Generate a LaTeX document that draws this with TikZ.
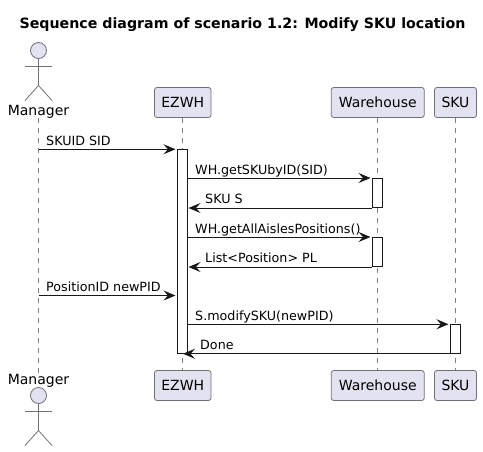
\documentclass[tikz,border=0pt]{standalone}
\usepackage{fontspec}
\setmainfont{DejaVu Sans}
\usetikzlibrary{arrows.meta, positioning}
\definecolor{partfill}{HTML}{E2E2F0}
\definecolor{partline}{HTML}{70707A}
\definecolor{lifegray}{HTML}{808080}
\definecolor{tipdark}{HTML}{181818}

\begin{document}
\begin{tikzpicture}[x=1pt, y=-1pt, >={Stealth[length=12pt, width=10pt, inset=4.5pt]}]
    \tikzstyle{participant} = [draw=partline, fill=partfill, rectangle, line width=0.8pt, minimum height=30pt, inner xsep=0pt, inner ysep=0pt, text height=11pt, text depth=2pt, rounded corners=2.5pt, font=\fontsize{14}{16}\selectfont]
    \tikzstyle{actorhead} = [draw=partline, fill=partfill, circle, line width=0.8pt, minimum size=16pt, inner sep=0pt]
    \tikzstyle{actorlimb} = [draw=partline, line width=0.8pt]
    \tikzstyle{actorname} = [anchor=base, inner sep=0pt, font=\fontsize{14}{16}\selectfont]
    \tikzstyle{lifeline} = [draw=lifegray, line width=1pt, dash pattern=on 5pt off 5pt]
    \tikzstyle{activebar} = [draw=tipdark, fill=white, rectangle, line width=1pt, minimum width=10pt, inner sep=0pt]
    \tikzstyle{msg} = [->, draw=tipdark, line width=0.9pt]
    \tikzstyle{msglabel} = [anchor=base west, inner sep=0pt, font=\fontsize{12.7}{15}\selectfont]

    \useasboundingbox (0,0) rectangle (483,451);

    \node [anchor=base, inner sep=0pt, font=\fontsize{14.2}{16}\selectfont\bfseries] (title) at (242.5,28) {Sequence diagram of scenario 1.2: Modify SKU location};

    \node [actorname] (managerTop) at (38.5,115) {Manager};
    \node [participant, minimum width=56.5pt] (ezwhTop) at (182.75,102.5) {EZWH};
    \node [participant, minimum width=93pt] (warehouseTop) at (377.75,102.5) {Warehouse};
    \node [participant, minimum width=42pt] (skuTop) at (455.5,102.5) {SKU};

    \node [actorname] (managerBot) at (38.5,384) {Manager};
    \node [participant, minimum width=56.5pt] (ezwhBot) at (182.75,385.5) {EZWH};
    \node [participant, minimum width=93pt] (warehouseBot) at (377.75,385.5) {Warehouse};
    \node [participant, minimum width=42pt] (skuBot) at (455.5,385.5) {SKU};

    % lifelines
    \draw[lifeline] (managerTop.south) -- (managerBot.north);
    \draw[lifeline] (ezwhTop.south) -- (ezwhBot.north);
    \draw[lifeline] (warehouseTop.south) -- (warehouseBot.north);
    \draw[lifeline] (skuTop.south) -- (skuBot.north);

    % actors
    \node [actorhead] (headTop) at (38.5,50.5) {};
    \coordinate (armsTop) at (38.5,66.5);
    \coordinate (hipTop) at (38.5,85.5);
    \draw[actorlimb] (headTop.south) -- (hipTop) -- ++(-13.5,15);
    \draw[actorlimb] (hipTop) -- ++(13.5,15);
    \draw[actorlimb] (armsTop) ++(-13.5,0) -- ++(27,0);

    \node [actorhead] (headBot) at (38.5,395.5) {};
    \coordinate (armsBot) at (38.5,411.5);
    \coordinate (hipBot) at (38.5,430.5);
    \draw[actorlimb] (headBot.south) -- (hipBot) -- ++(-13.5,15);
    \draw[actorlimb] (hipBot) -- ++(13.5,15);
    \draw[actorlimb] (armsBot) ++(-13.5,0) -- ++(27,0);

    % activations
    \node [activebar, minimum height=204pt] (ezwhBar) at (182.5,251.25) {};
    \node [activebar, minimum height=29pt] (warehouseBarA) at (377.5,193) {};
    \node [activebar, minimum height=29pt] (warehouseBarB) at (377.5,252) {};
    \node [activebar, minimum height=28.5pt] (skuBar) at (455.5,339) {};

    % messages
    \coordinate (skuidStart) at (38.5,149.25);
    \coordinate (pidStart) at (38.5,295.5);
    \draw[msg] (skuidStart) -- ([xshift=-1.5pt]ezwhBar.west |- skuidStart);
    \draw[msg] (pidStart) -- ([xshift=-1.5pt]ezwhBar.west |- pidStart);
    \draw[msg] (ezwhBar.east |- warehouseBarA.north) -- ([xshift=-1.5pt]warehouseBarA.north west);
    \draw[msg] (warehouseBarA.south west) -- ([xshift=0.5pt]ezwhBar.east |- warehouseBarA.south);
    \draw[msg] (ezwhBar.east |- warehouseBarB.north) -- ([xshift=-1.5pt]warehouseBarB.north west);
    \draw[msg] (warehouseBarB.south west) -- ([xshift=0.5pt]ezwhBar.east |- warehouseBarB.south);
    \draw[msg] (ezwhBar.east |- skuBar.north) -- ([xshift=-1.5pt]skuBar.north west);
    \draw[msg] (skuBar.south west) -- ([xshift=0.5pt]ezwhBar.south);

    \node [msglabel] (skuidLabel) at (46,145) {SKUID SID};
    \node [msglabel] (getskuLabel) at (195,174) {WH.getSKUbyID(SID)};
    \node [msglabel] (skusLabel) at (205,203) {SKU S};
    \node [msglabel] (getallLabel) at (195,233) {WH.getAllAislesPositions()};
    \node [msglabel] (listLabel) at (205,262) {List<Position> PL};
    \node [msglabel] (pidLabel) at (46,291) {PositionID newPID};
    \node [msglabel] (modifyLabel) at (195,320) {S.modifySKU(newPID)};
    \node [msglabel] (doneLabel) at (200,349) {Done};
\end{tikzpicture}
\end{document}
